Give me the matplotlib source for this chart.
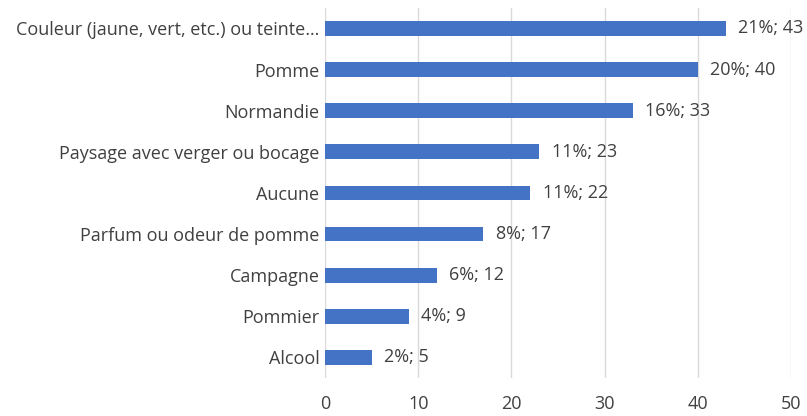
import matplotlib.pyplot as plt

categories = [
    "Couleur (jaune, vert, etc.) ou teinte…",
    "Pomme",
    "Normandie",
    "Paysage avec verger ou bocage",
    "Aucune",
    "Parfum ou odeur de pomme",
    "Campagne",
    "Pommier",
    "Alcool",
]
counts = [43, 40, 33, 23, 22, 17, 12, 9, 5]
percents = [21, 20, 16, 11, 11, 8, 6, 4, 2]

plt.rcParams["font.family"] = ["Open Sans", "DejaVu Sans"]

fig = plt.figure(figsize=(8.07, 4.16), dpi=100)
ax = fig.add_axes([0.4027, 0.0913, 0.5775, 0.8897])

y = list(range(len(categories)))[::-1]
ax.barh(y, counts, height=0.36, color="#4472C4", zorder=3)

for yi, c, p in zip(y, counts, percents):
    ax.annotate(f"{p}%; {c}", (c, yi), xytext=(9, 0), textcoords="offset points",
                va="center", ha="left", fontsize=13, color="#404040")

ax.set_xlim(0, 50)
ax.set_ylim(-0.5, 8.5)
ax.set_xticks([0, 10, 20, 30, 40, 50])
ax.set_yticks(y)
ax.set_yticklabels(categories)
ax.grid(axis="x", color="#D9D9D9", linewidth=1, zorder=0)
for s in ax.spines.values():
    s.set_visible(False)
ax.tick_params(axis="both", length=0, labelsize=13, colors="#404040")
ax.tick_params(axis="y", pad=4)
ax.tick_params(axis="x", pad=12)

fig.savefig("out.png", dpi=100)
